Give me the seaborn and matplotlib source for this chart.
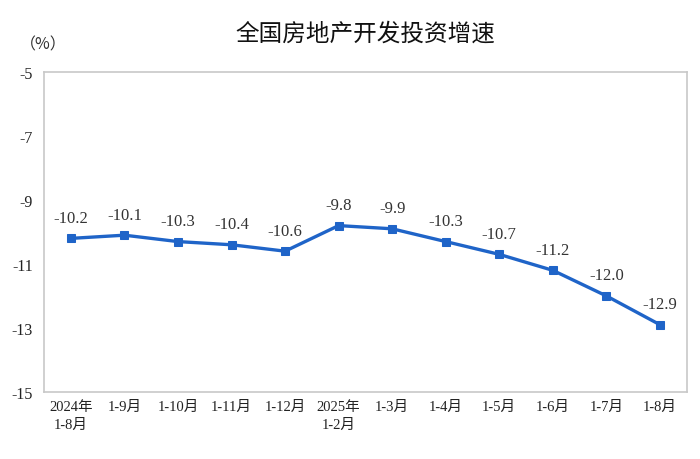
import matplotlib
matplotlib.use("Agg")
import matplotlib.pyplot as plt
import seaborn as sns
import pandas as pd

categories = ["2024年\n1-8月", "1-9月", "1-10月", "1-11月", "1-12月", "2025年\n1-2月",
              "1-3月", "1-4月", "1-5月", "1-6月", "1-7月", "1-8月"]
values = [-10.2, -10.1, -10.3, -10.4, -10.6, -9.8, -9.9, -10.3, -10.7, -11.2, -12.0, -12.9]
yticks = [-5, -7, -9, -11, -13, -15]

sns.set_theme(style="white")
serif = ["Liberation Serif", "Noto Sans CJK SC"]
plt.rcParams["font.family"] = serif

df = pd.DataFrame({"x": range(len(categories)), "v": values})

fig = plt.figure(figsize=(7, 4.6), dpi=100)
ax = fig.add_axes([0.063, 0.146, 0.918, 0.695])

blue = "#1F64C8"
sns.lineplot(data=df, x="x", y="v", ax=ax, color=blue, linewidth=2.4,
             marker="s", markersize=6, markeredgecolor=blue, markerfacecolor=blue)

for i, v in enumerate(values):
    ax.annotate(f"{v:.1f}", (i, v), xytext=(0, 9), textcoords="offset points",
                ha="center", va="bottom", fontsize=12, color="#333333", family=serif)

ax.set_xlim(-0.5, len(categories) - 0.5)
ax.set_ylim(-15, -5)
ax.set_yticks(yticks)
ax.set_yticklabels([str(t) for t in yticks], fontsize=11.5, color="#222222")
ax.set_xticks(range(len(categories)))
ax.set_xticklabels(categories, fontsize=10.5, color="#222222", linespacing=1.5)
ax.set_xticks([i + 0.5 for i in range(len(categories) - 1)], minor=True)
ax.tick_params(axis="x", which="major", length=0, pad=6)
ax.tick_params(axis="x", which="minor", direction="in", length=6, color="#BBBBBB", width=1)
ax.tick_params(axis="y", direction="in", length=5, color="#BBBBBB", width=1, pad=8)
ax.set_xlabel("")
ax.set_ylabel("")
for s in ax.spines.values():
    s.set_color("#C8C8C8")
    s.set_linewidth(1.2)

fig.text(0.522, 0.925, "全国房地产开发投资增速", ha="center", va="center",
         fontsize=17, family=["Noto Sans CJK SC"], color="#111111")
fig.text(0.062, 0.902, "（%）", ha="center", va="center", fontsize=11.5,
         family=["Noto Sans CJK SC"], color="#333333")

fig.savefig("out.png", dpi=100)
